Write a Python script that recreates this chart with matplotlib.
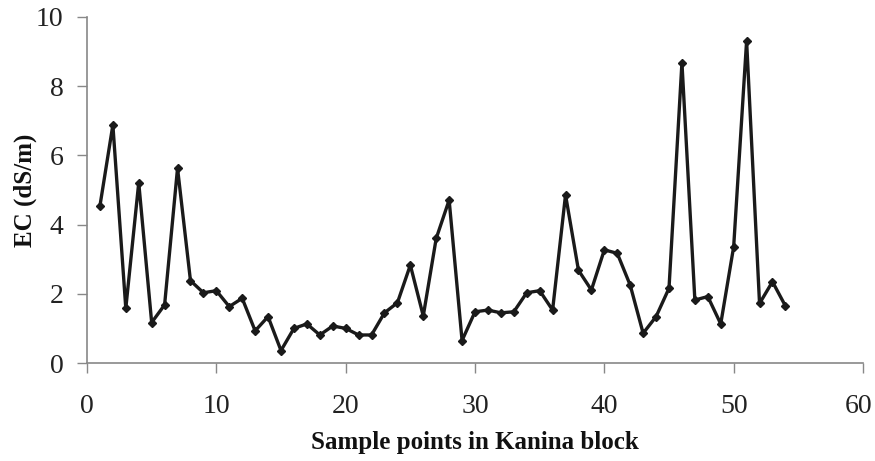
import numpy as np
import matplotlib
matplotlib.use("Agg")
import matplotlib.pyplot as plt
from matplotlib.transforms import ScaledTranslation

# EC values, one per sample point
sample_no = list(range(1, 55))
ec_values = [4.54, 6.88, 1.58, 5.21, 1.17, 1.68, 5.63, 2.38, 2.03, 2.09,
             1.63, 1.87, 0.93, 1.34, 0.36, 1.00, 1.13, 0.81, 1.07, 1.00,
             0.81, 0.81, 1.45, 1.74, 2.83, 1.36, 3.60, 4.71, 0.65, 1.48,
             1.53, 1.45, 1.48, 2.03, 2.09, 1.53, 4.86, 2.68, 2.11, 3.27,
             3.17, 2.25, 0.86, 1.34, 2.16, 8.68, 1.82, 1.92, 1.13, 3.36,
             9.31, 1.72, 2.35, 1.65]

x_ticks = [0, 10, 20, 30, 40, 50, 60]
y_ticks = [0, 2, 4, 6, 8, 10]

plt.rcParams['font.family'] = ['Liberation Serif', 'DejaVu Serif']

fig = plt.figure(figsize=(8.75, 4.61), dpi=100)
ax = fig.add_axes([87 / 875, 1 - 363 / 461, 776 / 875, 346 / 461])

ax.plot(sample_no, ec_values, color='#1a1a1a', linewidth=2.4,
        marker='D', markersize=3.8, markerfacecolor='#1a1a1a',
        markeredgecolor='#1a1a1a')

ax.set_xlim(0, 60)
ax.set_ylim(0, 10)
ax.set_xticks(x_ticks)
ax.set_yticks(y_ticks)

for side in ['top', 'right']:
    ax.spines[side].set_visible(False)
for side in ['left', 'bottom']:
    ax.spines[side].set_color('#888888')
    ax.spines[side].set_linewidth(1.2)

ax.tick_params(axis='both', direction='out', length=7, width=1,
               color='#888888', labelsize=20, labelcolor='#222222')
ax.tick_params(axis='x', pad=15)
ax.tick_params(axis='y', pad=10)

# nudge the last x label in so it stays inside the figure
last = ax.get_xticklabels()[-1]
last.set_transform(last.get_transform() + ScaledTranslation(-4 / 100, 0, fig.dpi_scale_trans))

ax.set_xlabel('Sample points in Kanina block', fontsize=18,
              fontweight='bold', color='#111111', labelpad=9)
ax.set_ylabel('EC (dS/m)', fontsize=18, fontweight='bold',
              color='#111111', labelpad=-1)

fig.savefig('out.png', dpi=100)
